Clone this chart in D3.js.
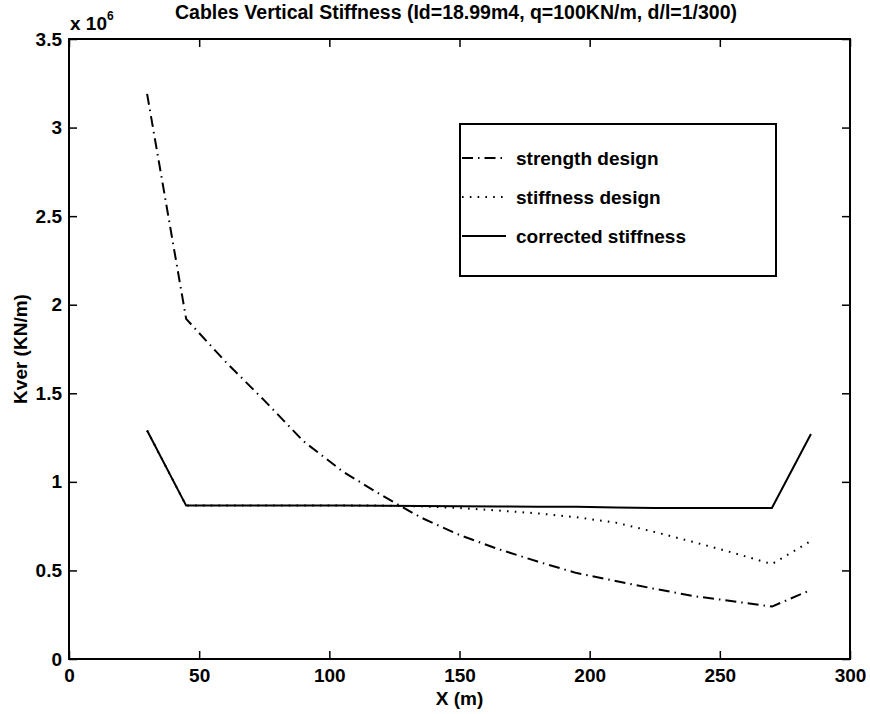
<!DOCTYPE html>
<html>
<head>
<meta charset="utf-8">
<script src="https://cdn.jsdelivr.net/npm/d3@7/dist/d3.min.js"></script>
<style>
  html, body { margin: 0; padding: 0; background: #fff; }
  svg text { font-family: "Liberation Sans", Arial, Helvetica, sans-serif; fill: #000; }
</style>
</head>
<body>
<svg id="chart" width="870" height="714"></svg>
<script>
// Span positions along the bridge (m)
const positions = [30, 45, 60, 75, 90, 105, 120, 135, 150, 165, 180, 195, 210, 225, 240, 255, 270, 285];

// Vertical stiffness of the cables, in units of 10^6 KN/m
const strengthDesign   = [3.19, 1.92, 1.68, 1.46, 1.23, 1.06, 0.925, 0.80, 0.70, 0.62, 0.55, 0.485, 0.44, 0.396, 0.355, 0.326, 0.296, 0.39];
const stiffnessDesign  = [1.29, 0.866, 0.866, 0.866, 0.866, 0.866, 0.866, 0.862, 0.852, 0.838, 0.822, 0.80, 0.77, 0.717, 0.66, 0.60, 0.536, 0.666];
const correctedStiff   = [1.29, 0.866, 0.866, 0.867, 0.867, 0.866, 0.865, 0.864, 0.862, 0.861, 0.860, 0.859, 0.855, 0.853, 0.852, 0.852, 0.852, 1.27];

const xTicks = [0, 50, 100, 150, 200, 250, 300];
const yTicks = [0, 0.5, 1, 1.5, 2, 2.5, 3, 3.5];
const yTickLabels = ["0", "0.5", "1", "1.5", "2", "2.5", "3", "3.5"];

const seriesNames = ["strength design", "stiffness design", "corrected stiffness"];

const svg = d3.select("#chart");
const plotLeft = 69, plotRight = 850, plotTop = 39, plotBottom = 659;

const x = d3.scaleLinear().domain([0, 300]).range([plotLeft, plotRight]);
const y = d3.scaleLinear().domain([0, 3.5]).range([plotBottom, plotTop]);

const styles = [
  { dash: "11,5,1.5,5", width: 2 },
  { dash: "1.6,6.2", width: 2 },
  { dash: null, width: 2 }
];

const seriesValues = [strengthDesign, stiffnessDesign, correctedStiff];

const line = d3.line().x(d => x(d[0])).y(d => y(d[1]));

// Curves
seriesValues.forEach((vals, i) => {
  const pts = positions.map((p, k) => [p, vals[k]]);
  const path = svg.append("path")
    .datum(pts)
    .attr("d", line)
    .attr("fill", "none")
    .attr("stroke", "#000")
    .attr("stroke-width", styles[i].width)
    .attr("stroke-linejoin", "round");
  if (styles[i].dash) path.attr("stroke-dasharray", styles[i].dash);
});

// Axes: ticks point inward on all four sides
const tickLen = 8;
const fontSize = 19;

const axisBottom = d3.axisBottom(x).tickValues(xTicks).tickSizeInner(-tickLen).tickSizeOuter(0).tickPadding(10);
const gB = svg.append("g").attr("transform", `translate(0,${plotBottom})`).call(axisBottom);
const axisTop = d3.axisTop(x).tickValues(xTicks).tickSizeInner(-tickLen).tickSizeOuter(0).tickFormat("");
const gT = svg.append("g").attr("transform", `translate(0,${plotTop})`).call(axisTop);
const axisLeft = d3.axisLeft(y).tickValues(yTicks).tickSizeInner(-tickLen).tickSizeOuter(0).tickPadding(7)
  .tickFormat((d, i) => yTickLabels[i]);
const gL = svg.append("g").attr("transform", `translate(${plotLeft},0)`).call(axisLeft);
const axisRight = d3.axisRight(y).tickValues(yTicks).tickSizeInner(-tickLen).tickSizeOuter(0).tickFormat("");
const gR = svg.append("g").attr("transform", `translate(${plotRight},0)`).call(axisRight);

[gB, gT, gL, gR].forEach(g => {
  g.select(".domain").remove();
  g.selectAll(".tick line").attr("stroke", "#000").attr("stroke-width", 1.5);
  g.selectAll(".tick text").attr("font-size", fontSize).attr("font-weight", "bold")
    .attr("font-family", "Liberation Sans, Arial, sans-serif").attr("fill", "#000");
});
gB.selectAll(".tick text").attr("dy", "0.71em");

// Axes box
svg.append("rect")
  .attr("x", plotLeft).attr("y", plotTop)
  .attr("width", plotRight - plotLeft).attr("height", plotBottom - plotTop)
  .attr("fill", "none").attr("stroke", "#000").attr("stroke-width", 2);

// Exponent marker
const expo = svg.append("text").attr("x", 70).attr("y", 30)
  .attr("font-size", fontSize).attr("font-weight", "bold");
expo.append("tspan").text("x 10");
expo.append("tspan").attr("dy", -10).attr("font-size", 12).text("6");

// Title
svg.append("text")
  .attr("x", 456).attr("y", 19)
  .attr("text-anchor", "middle")
  .attr("font-size", 19.5).attr("font-weight", "bold")
  .text("Cables Vertical Stiffness (Id=18.99m4, q=100KN/m, d/l=1/300)");

// Axis labels
svg.append("text")
  .attr("x", (plotLeft + plotRight) / 2).attr("y", 705)
  .attr("text-anchor", "middle")
  .attr("font-size", fontSize).attr("font-weight", "bold")
  .text("X (m)");
svg.append("text")
  .attr("transform", `translate(27,${(plotTop + plotBottom) / 2}) rotate(-90)`)
  .attr("text-anchor", "middle")
  .attr("font-size", fontSize).attr("font-weight", "bold")
  .text("Kver (KN/m)");

// Legend
const lg = { x: 460, y: 124, w: 316, h: 152 };
svg.append("rect")
  .attr("x", lg.x).attr("y", lg.y).attr("width", lg.w).attr("height", lg.h)
  .attr("fill", "#fff").attr("stroke", "#000").attr("stroke-width", 2);
const rowY = [158, 197, 236];
seriesNames.forEach((name, i) => {
  const l = svg.append("line")
    .attr("x1", 462).attr("x2", 506)
    .attr("y1", rowY[i]).attr("y2", rowY[i])
    .attr("stroke", "#000").attr("stroke-width", styles[i].width);
  if (styles[i].dash) l.attr("stroke-dasharray", styles[i].dash);
  svg.append("text")
    .attr("x", 516).attr("y", rowY[i] + 7)
    .attr("font-size", fontSize).attr("font-weight", "bold")
    .text(name);
});
</script>
</body>
</html>
